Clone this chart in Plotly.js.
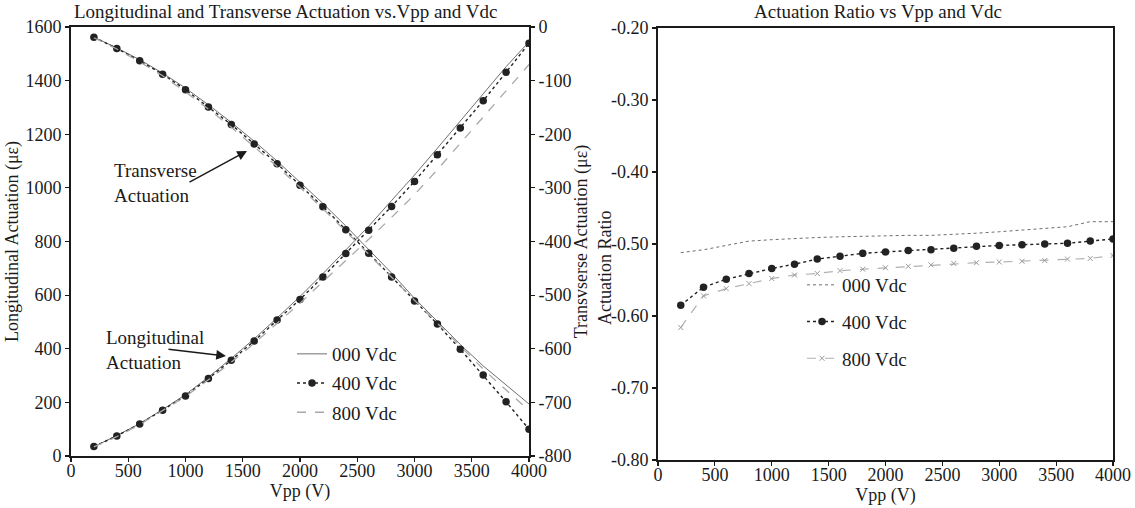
<!DOCTYPE html>
<html>
<head>
<meta charset="utf-8">
<script src="https://cdn.plot.ly/plotly-3.0.1.min.js"></script>
<style>
html,body{margin:0;padding:0;background:#fff;}
#chart{width:1135px;height:508px;}
</style>
</head>
<body>
<div id="chart"></div>
<script>
// ---- data ----
const vpp = [200,400,600,800,1000,1200,1400,1600,1800,2000,2200,2400,2600,2800,3000,3200,3400,3600,3800,4000];
const seriesNames = ["000 Vdc","400 Vdc","800 Vdc"];

const long000 = [35,76,121,173,229,294,364,437,515,595,680,768,857,953,1048,1148,1250,1352,1452,1545];
const long400 = [35,75,119,171,224,289,357,429,507,584,668,755,842,931,1024,1124,1223,1325,1431,1539];
const long800 = [34,72,117,168,222,284,350,420,494,570,650,728,808,890,975,1068,1165,1262,1362,1460];

const trans000 = [-19,-39,-61,-86,-114,-145,-178,-213,-250,-289,-329,-371,-415,-459,-506,-549,-592,-632,-668,-703];
const trans400 = [-19,-40,-63,-88,-117,-149,-182,-218,-255,-295,-335,-378,-422,-466,-511,-554,-601,-649,-699,-750];
const trans800 = [-20,-41,-65,-91,-121,-153,-187,-223,-260,-299,-339,-381,-424,-467,-510,-553,-596,-638,-677,-715];

const ratio000 = [-0.512,-0.508,-0.502,-0.496,-0.494,-0.492,-0.491,-0.490,-0.489,-0.489,-0.488,-0.488,-0.487,-0.485,-0.483,-0.481,-0.479,-0.476,-0.469,-0.469];
const ratio400 = [-0.585,-0.560,-0.549,-0.541,-0.534,-0.528,-0.521,-0.517,-0.513,-0.511,-0.509,-0.508,-0.506,-0.503,-0.502,-0.501,-0.500,-0.499,-0.496,-0.493];
const ratio800 = [-0.616,-0.572,-0.562,-0.555,-0.548,-0.543,-0.541,-0.537,-0.535,-0.533,-0.531,-0.529,-0.527,-0.526,-0.525,-0.524,-0.523,-0.521,-0.520,-0.516];

const xTicks = [0,500,1000,1500,2000,2500,3000,3500,4000];
const yLeftTicks = [0,200,400,600,800,1000,1200,1400,1600];
const yRightTickVals = [0,-100,-200,-300,-400,-500,-600,-700,-800];
const yRightTickText = ["0","-100","-200","-300","-400","-500","-600","-700","-800"];
const ratioTickVals = [-0.2,-0.3,-0.4,-0.5,-0.6,-0.7,-0.8];
const ratioTickText = ["-0.20","-0.30","-0.40","-0.50","-0.60","-0.70","-0.80"];

// ---- layout helpers ----
const W = 1135, H = 508;
const px = v => v / W;
const py = v => 1 - v / H;
const FONT = "Liberation Serif, Times New Roman, serif";

const s000 = {color:"#6e6e6e", width:1, dash:"solid"};
const s400 = {color:"#222222", width:1.4, dash:"dot"};
const s800 = {color:"#a8a8a8", width:1.3, dash:"dash"};
const m400 = {symbol:"circle", size:7.5, color:"#222222"};

const traces = [
  {x:vpp, y:long000, xaxis:"x", yaxis:"y", mode:"lines", line:s000, name:seriesNames[0], legend:"legend", legendgroup:"L0"},
  {x:vpp, y:long400, xaxis:"x", yaxis:"y", mode:"lines+markers", line:s400, marker:m400, name:seriesNames[1], legend:"legend", legendgroup:"L4"},
  {x:vpp, y:long800, xaxis:"x", yaxis:"y", mode:"lines", line:s800, name:seriesNames[2], legend:"legend", legendgroup:"L8"},
  {x:vpp, y:trans000, xaxis:"x", yaxis:"y2", mode:"lines", line:s000, name:seriesNames[0], showlegend:false, legendgroup:"L0"},
  {x:vpp, y:trans400, xaxis:"x", yaxis:"y2", mode:"lines+markers", line:s400, marker:m400, name:seriesNames[1], showlegend:false, legendgroup:"L4"},
  {x:vpp, y:trans800, xaxis:"x", yaxis:"y2", mode:"lines", line:s800, name:seriesNames[2], showlegend:false, legendgroup:"L8"},
  {x:vpp, y:ratio000, xaxis:"x2", yaxis:"y3", mode:"lines", line:{color:"#6e6e6e", width:1, dash:"dot"}, name:seriesNames[0], legend:"legend2", legendgroup:"R0"},
  {x:vpp, y:ratio400, xaxis:"x2", yaxis:"y3", mode:"lines+markers", line:s400, marker:m400, name:seriesNames[1], legend:"legend2", legendgroup:"R4"},
  {x:vpp, y:ratio800, xaxis:"x2", yaxis:"y3", mode:"lines+markers", line:{color:"#b0b0b0", width:1.2, dash:"dash"}, marker:{symbol:"x-thin-open", size:5, color:"#9a9a9a", line:{width:1, color:"#9a9a9a"}}, name:seriesNames[2], legend:"legend2", legendgroup:"R8"}
];

const axBase = {
  showline:true, linecolor:"#1a1a1a", linewidth:1.8, ticks:"outside", ticklen:4, tickwidth:1.2, tickcolor:"#1a1a1a",
  showgrid:false, zeroline:false, tickfont:{family:FONT, size:18, color:"#1a1a1a"}, automargin:false
};

const layout = {
  width:W, height:H,
  margin:{l:0, r:0, t:0, b:0},
  paper_bgcolor:"#fff", plot_bgcolor:"#fff",
  font:{family:FONT, size:16, color:"#1a1a1a"},
  showlegend:true,
  xaxis: Object.assign({}, axBase, {domain:[px(71), px(529)], range:[0,4000], tickmode:"array", tickvals:xTicks, anchor:"y", mirror:true, ticklabelstandoff:-6,
    title:{text:"Vpp (V)", font:{family:FONT, size:18}, standoff:2}}),
  yaxis: Object.assign({}, axBase, {domain:[py(456), py(27)], range:[0,1600], tickmode:"array", tickvals:yLeftTicks, anchor:"x",
    title:{text:"Longitudinal Actuation (με)", font:{family:FONT, size:18}, standoff:2}}),
  yaxis2: Object.assign({}, axBase, {overlaying:"y", side:"right", range:[-800,0], tickmode:"array", tickvals:yRightTickVals, ticktext:yRightTickText, anchor:"x",
    title:{text:"Transvserse Actuation (με)", font:{family:FONT, size:18}, standoff:0}}),
  xaxis2: Object.assign({}, axBase, {domain:[px(658), px(1113)], range:[0,4000], tickmode:"array", tickvals:xTicks, anchor:"y3", mirror:true, ticklabelstandoff:-6,
    title:{text:"Vpp (V)", font:{family:FONT, size:18}, standoff:2}}),
  yaxis3: Object.assign({}, axBase, {domain:[py(460), py(28)], range:[-0.8,-0.2], tickmode:"array", tickvals:ratioTickVals, ticktext:ratioTickText, anchor:"x2", mirror:true}),
  legend:{x:px(292), y:py(335), xanchor:"left", yanchor:"top", bgcolor:"rgba(0,0,0,0)", font:{family:FONT, size:19}, traceorder:"grouped", tracegroupgap:1.5, itemwidth:30},
  legend2:{x:px(802), y:py(266), xanchor:"left", yanchor:"top", bgcolor:"rgba(0,0,0,0)", font:{family:FONT, size:19}, traceorder:"grouped", tracegroupgap:9, itemwidth:30},
  annotations:[
    {xref:"paper", yref:"paper", x:px(285), y:py(12), text:"Longitudinal and Transverse Actuation vs.Vpp and Vdc", showarrow:false, font:{family:FONT, size:19}, xanchor:"center", yanchor:"middle"},
    {xref:"paper", yref:"paper", x:px(878), y:py(12), text:"Actuation Ratio vs Vpp and Vdc", showarrow:false, font:{family:FONT, size:19}, xanchor:"center", yanchor:"middle"},
    {xref:"paper", yref:"paper", x:px(605), y:py(268), text:"Actuation Ratio", textangle:-90, showarrow:false, font:{family:FONT, size:18}, xanchor:"center", yanchor:"middle"},
    {xref:"paper", yref:"paper", x:px(112), y:py(183), text:"Transverse<br>Actuation", align:"left", showarrow:false, font:{family:FONT, size:19}, xanchor:"left", yanchor:"middle"},
    {xref:"paper", yref:"paper", x:px(104), y:py(350), text:"Longitudinal<br>Actuation", align:"left", showarrow:false, font:{family:FONT, size:19}, xanchor:"left", yanchor:"middle"},
    {xref:"paper", yref:"paper", x:px(247), y:py(151), ax:-59, ay:32, axref:"pixel", ayref:"pixel", text:"", showarrow:true, arrowhead:2, arrowsize:1.3, arrowwidth:1.5, arrowcolor:"#1a1a1a"},
    {xref:"paper", yref:"paper", x:px(226), y:py(356), ax:-59, ay:-7, axref:"pixel", ayref:"pixel", text:"", showarrow:true, arrowhead:2, arrowsize:1.3, arrowwidth:1.5, arrowcolor:"#1a1a1a"}
  ]
};

Plotly.newPlot("chart", traces, layout, {displayModeBar:false, staticPlot:true});
</script>
</body>
</html>
